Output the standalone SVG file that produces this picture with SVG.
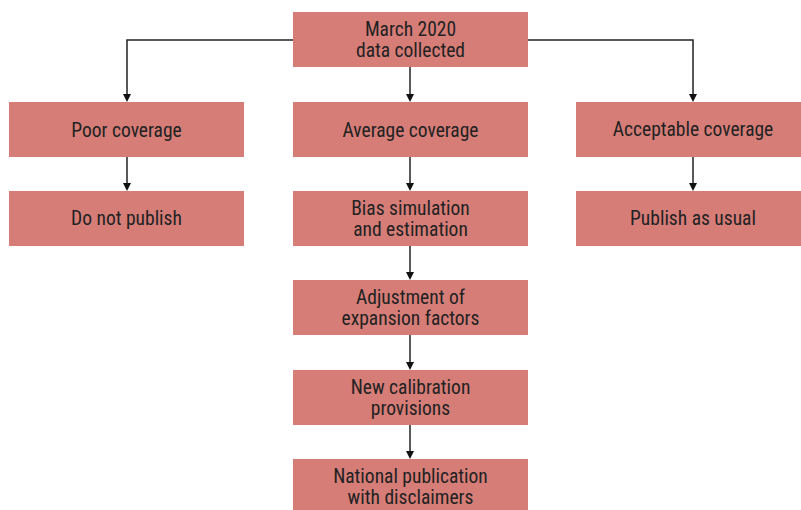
<svg xmlns="http://www.w3.org/2000/svg" width="801" height="510" viewBox="0 0 801 510">
<defs>
<style>
.box{fill:#D67D78;}
.t{font-family:"Liberation Sans Narrow","Roboto Condensed","Liberation Sans",sans-serif;font-size:19.5px;font-weight:400;fill:#222;text-anchor:middle;}
.c{fill:none;stroke:#222;stroke-width:1.5;}
</style>
</defs>
<rect width="801" height="510" fill="#fff"/>
<g id="connectors">
<path class="c" d="M293,40 H127 V95"/>
<path class="c" d="M528,40 H693 V95"/>
<path class="c" d="M410,67 V95"/>
<path class="c" d="M127,157 V184"/>
<path class="c" d="M410,157 V184"/>
<path class="c" d="M693,157 V184"/>
<path class="c" d="M410,246 V273"/>
<path class="c" d="M410,335 V363"/>
<path class="c" d="M410,425 V452"/>
<g fill="#111">
<path d="M123,94 H131 L127,102 z"/>
<path d="M406,94 H414 L410,102 z"/>
<path d="M689,94 H697 L693,102 z"/>
<path d="M123,183 H131 L127,191 z"/>
<path d="M406,183 H414 L410,191 z"/>
<path d="M689,183 H697 L693,191 z"/>
<path d="M406,272 H414 L410,280 z"/>
<path d="M406,362 H414 L410,370 z"/>
<path d="M406,451 H414 L410,459 z"/>
</g>
</g>
<g id="n-march"><rect class="box" x="293" y="12" width="235" height="55"/><text class="t" x="410.5" y="36">March 2020</text><text class="t" x="410.5" y="57">data collected</text></g>
<g id="n-poor"><rect class="box" x="9" y="102" width="235" height="55"/><text class="t" x="126.5" y="137">Poor coverage</text></g>
<g id="n-average"><rect class="box" x="293" y="102" width="235" height="55"/><text class="t" x="410.5" y="137">Average coverage</text></g>
<g id="n-acceptable"><rect class="box" x="576" y="102" width="225" height="55"/><text class="t" x="693" y="136">Acceptable coverage</text></g>
<g id="n-donot"><rect class="box" x="9" y="191" width="235" height="55"/><text class="t" x="126.5" y="225">Do not publish</text></g>
<g id="n-bias"><rect class="box" x="293" y="191" width="235" height="55"/><text class="t" x="410.5" y="215">Bias simulation</text><text class="t" x="410.5" y="236">and estimation</text></g>
<g id="n-usual"><rect class="box" x="576" y="191" width="225" height="55"/><text class="t" x="693" y="225">Publish as usual</text></g>
<g id="n-adjust"><rect class="box" x="293" y="280" width="235" height="55"/><text class="t" x="410.5" y="304">Adjustment of</text><text class="t" x="410.5" y="325">expansion factors</text></g>
<g id="n-calib"><rect class="box" x="293" y="370" width="235" height="55"/><text class="t" x="410.5" y="394">New calibration</text><text class="t" x="410.5" y="415">provisions</text></g>
<g id="n-national"><rect class="box" x="293" y="459" width="235" height="51"/><text class="t" x="410.5" y="483">National publication</text><text class="t" x="410.5" y="504">with disclaimers</text></g>
</svg>
